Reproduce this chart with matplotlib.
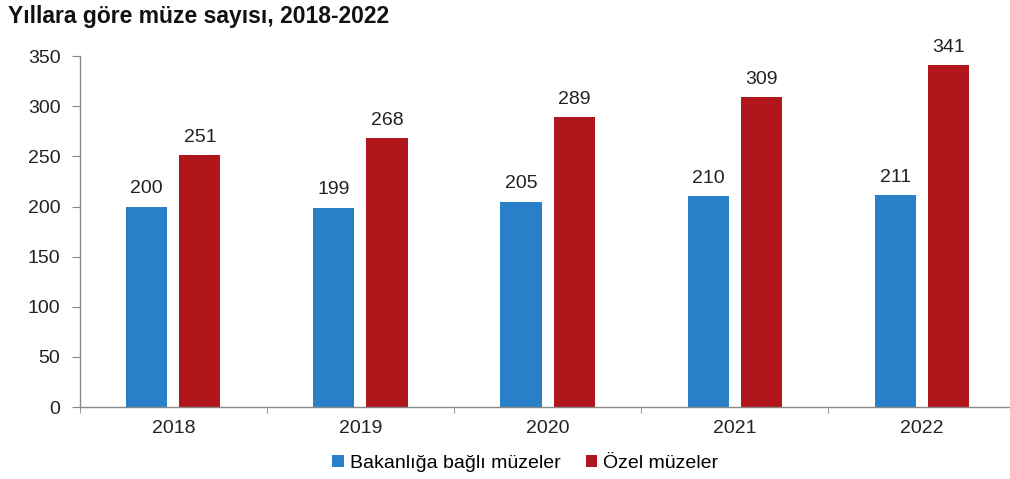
import matplotlib
matplotlib.use("Agg")
import matplotlib.pyplot as plt
import numpy as np

plt.rcParams['font.family'] = ['Liberation Sans', 'DejaVu Sans']

years = ["2018", "2019", "2020", "2021", "2022"]
bakanlik = [200, 199, 205, 210, 211]
ozel = [251, 268, 289, 309, 341]
series_names = ["Bakanlığa bağlı müzeler", "Özel müzeler"]
colors = ["#2A80C8", "#B0161B"]

fig = plt.figure(figsize=(10.10, 4.79), dpi=100)
ax = fig.add_axes([0.079, 0.150, 0.93, 0.733])

x = np.arange(len(years))
w = 0.22
off = 0.142
b1 = ax.bar(x - off, bakanlik, w, color=colors[0], label=series_names[0])
b2 = ax.bar(x + off, ozel, w, color=colors[1], label=series_names[1])
for bars in (b1, b2):
    for r in bars:
        ax.text(r.get_x() + r.get_width() / 2, r.get_height() + 9, str(int(r.get_height())),
                ha="center", va="bottom", fontsize=14, color="#222222")

ax.set_ylim(0, 350)
ax.set_yticks(range(0, 351, 50))
ax.set_xlim(-0.5, len(years) - 0.48)
ax.set_xticks(x)
ax.set_xticklabels(years, fontsize=14, color="#222222")
ax.set_xticks(np.arange(len(years)) - 0.5, minor=True)
ax.tick_params(axis="x", which="major", length=0, pad=9)
ax.tick_params(axis="x", which="minor", length=4, color="#888888", direction="out")
ax.tick_params(axis="y", length=6, color="#888888", labelsize=14, labelcolor="#222222", pad=8)
for s in ("top", "right"):
    ax.spines[s].set_visible(False)
for s in ("left", "bottom"):
    ax.spines[s].set_color("#888888")
    ax.spines[s].set_linewidth(1.0)

fig.text(0.008, 0.965, "Yıllara göre müze sayısı, 2018-2022", fontsize=16.5, fontweight="bold",
         color="#111111", ha="left", va="center")

fig.legend(handles=[b1, b2], labels=series_names, loc="center", bbox_to_anchor=(0.52, 0.033),
           ncol=2, frameon=False, fontsize=14, handlelength=0.6, handleheight=0.6,
           handletextpad=0.3, columnspacing=1.3)

fig.savefig("out.png", dpi=100)
